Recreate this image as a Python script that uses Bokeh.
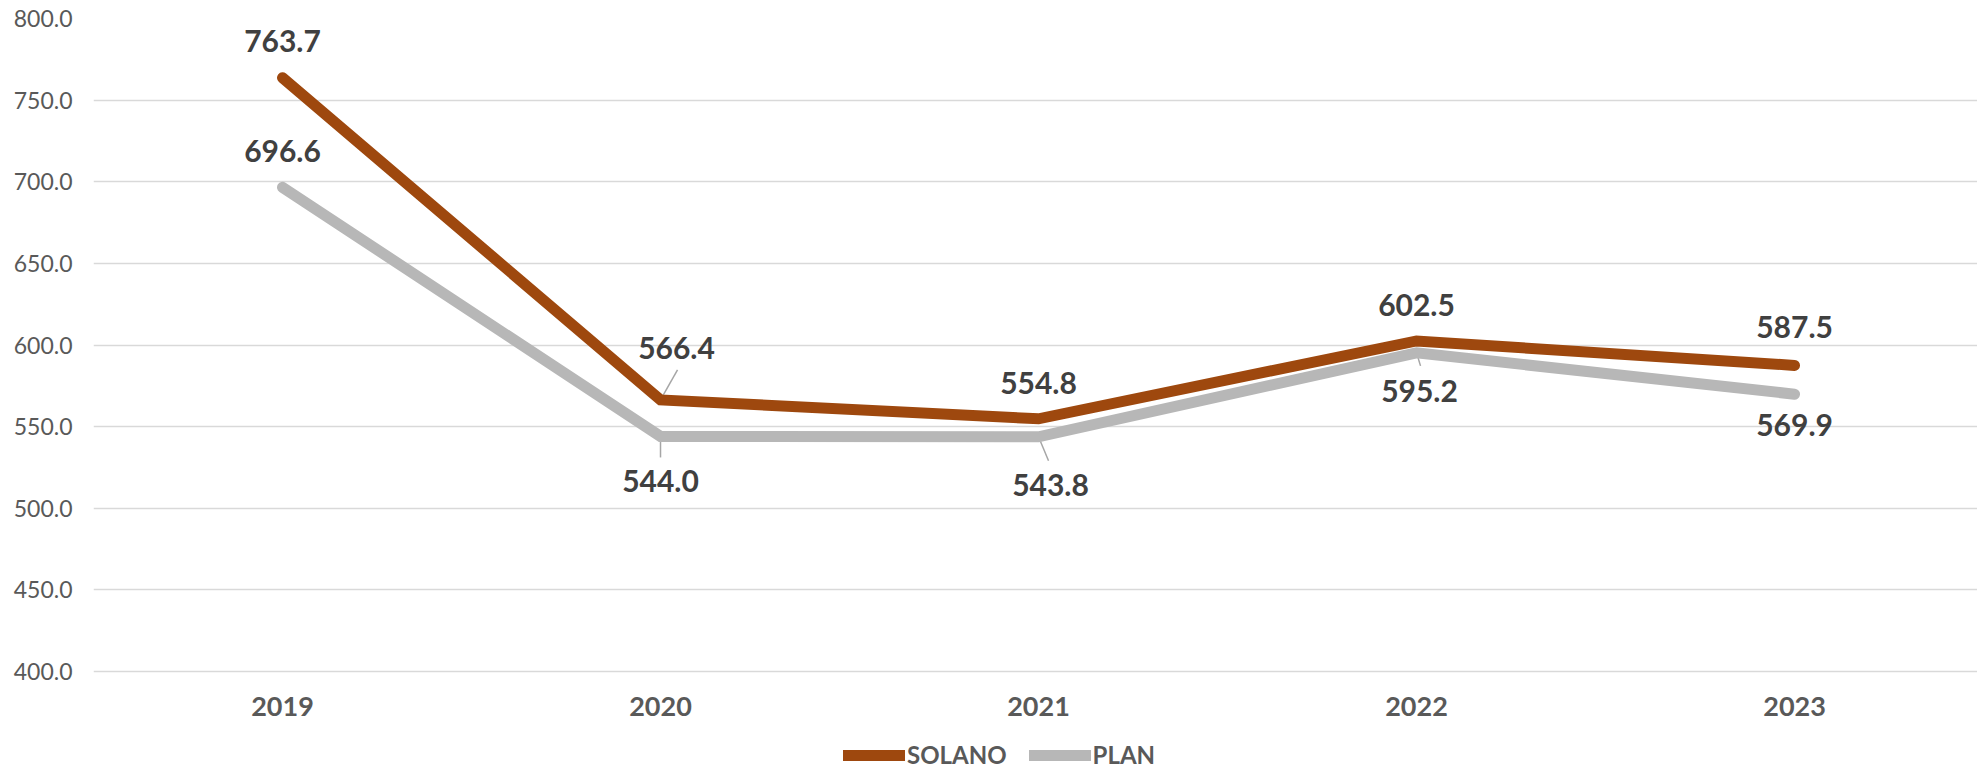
from bokeh.plotting import figure
from bokeh.models import ColumnDataSource, FixedTicker, NumeralTickFormatter, Legend, LegendItem, Range1d
from bokeh.core.properties import value
from bokeh.embed import file_html
from bokeh.resources import INLINE

years = ["2019", "2020", "2021", "2022", "2023"]
solano = [763.7, 566.4, 554.8, 602.5, 587.5]
plan = [696.6, 544.0, 543.8, 595.2, 569.9]
y_ticks = [400, 450, 500, 550, 600, 650, 700, 750, 800]
y_axis_floor = 400

# label offsets in screen pixels (style)
solano_dx = [0, 16, 0, 0, 0]
solano_dy = [-37, -52, -36, -36, -38]
plan_dx = [0, 0, 12, 3, 0]
plan_dy = [-36, 45, 48, 38, 31]

FONT = "Lato"
BROWN = "#9E480E"
GREY = "#B7B7B7"

idx = list(range(len(years)))

p = figure(width=1977, height=769, output_backend="svg", toolbar_location=None,
           x_range=Range1d(-0.5, 4.484), y_range=Range1d(340, 800),
           min_border_left=93, min_border_right=0, min_border_top=18, min_border_bottom=0)
p.outline_line_color = None
p.background_fill_color = "white"
p.border_fill_color = "white"

p.xgrid.grid_line_color = None
p.ygrid.grid_line_color = "#D9D9D9"
p.ygrid.grid_line_width = 1.5
p.yaxis.ticker = FixedTicker(ticks=y_ticks)
p.yaxis.formatter = NumeralTickFormatter(format="0.0")
p.xaxis.ticker = FixedTicker(ticks=idx)
p.xaxis.major_label_overrides = {i: y for i, y in zip(idx, years)}
p.xaxis.fixed_location = y_axis_floor

for ax in (p.xaxis[0], p.yaxis[0]):
    ax.axis_line_color = None
    ax.major_tick_line_color = None
    ax.minor_tick_line_color = None
    ax.major_tick_out = 0
    ax.major_tick_in = 0
    ax.major_label_text_font = FONT
    ax.major_label_text_color = "#595959"

p.yaxis.major_label_text_font_size = "23px"
p.yaxis.major_label_standoff = 21
p.xaxis.major_label_text_font_size = "27px"
p.xaxis.major_label_text_font_style = "bold"
p.xaxis.major_label_standoff = 25

# leader lines (screen offsets converted via scale: 378 px per category, 1.633 px per unit)
px_x = 378.0
px_y = 751.0 / 460.0
lead_src = ColumnDataSource(dict(
    x0=[1, 1, 2, 3],
    y0=[solano[1], plan[1], plan[2], plan[3]],
    x1=[1 + 17 / px_x, 1, 2 + 10 / px_x, 3 + 4 / px_x],
    y1=[solano[1] + 30 / px_y, plan[1] - 21 / px_y, plan[2] - 24 / px_y, plan[3] - 13 / px_y],
))
p.segment(x0="x0", y0="y0", x1="x1", y1="y1", source=lead_src, line_color="#A6A6A6", line_width=1.5)

r_plan = p.line(idx, plan, line_color=GREY, line_width=11, line_cap="round", line_join="miter")
r_sol = p.line(idx, solano, line_color=BROWN, line_width=11, line_cap="round", line_join="miter")

sol_src = ColumnDataSource(dict(x=idx, y=solano, t=[f"{v:.1f}" for v in solano], dx=solano_dx, dy=solano_dy))
plan_src = ColumnDataSource(dict(x=idx, y=plan, t=[f"{v:.1f}" for v in plan], dx=plan_dx, dy=plan_dy))
for src in (sol_src, plan_src):
    p.text(x="x", y="y", text="t", x_offset="dx", y_offset="dy", source=src,
           text_font=value(FONT), text_font_size="30px", text_font_style="bold",
           text_color="#404040", text_align="center", text_baseline="middle")

legend = Legend(items=[LegendItem(label="SOLANO", renderers=[r_sol]),
                       LegendItem(label="PLAN", renderers=[r_plan])],
                location=(750, 0), orientation="horizontal")
legend.label_text_font = FONT
legend.label_text_font_size = "24px"
legend.label_text_font_style = "bold"
legend.label_text_color = "#595959"
legend.glyph_width = 62
legend.glyph_height = 20
legend.label_standoff = 2
legend.spacing = 22
legend.padding = 0
legend.margin = 0
legend.border_line_color = None
legend.background_fill_alpha = 0
p.add_layout(legend, "center")

open("out.html", "w").write(file_html(p, INLINE))
